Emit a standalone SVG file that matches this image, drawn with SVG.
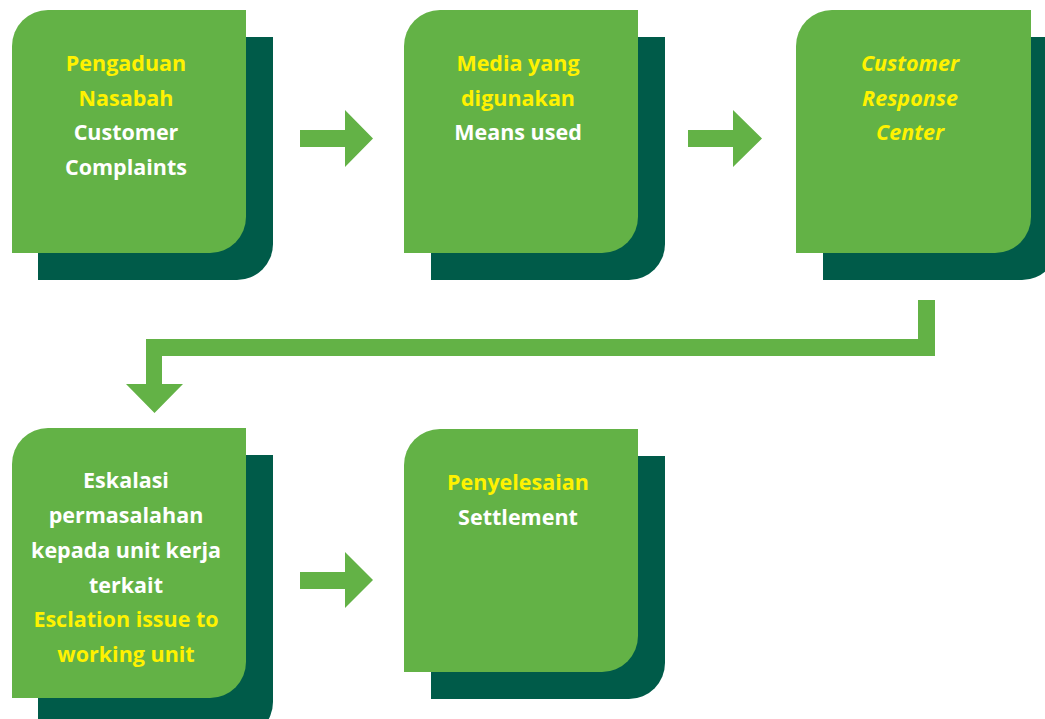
<svg xmlns="http://www.w3.org/2000/svg" width="1045" height="719" viewBox="0 0 1045 719">
  <style>
    .card { fill: #63B246; }
    .shadow { fill: #005B49; }
    .flow { fill: #63B246; }
    text { font-family: "Open Sans", "Liberation Sans", sans-serif; font-weight: 700; font-size: 21.5px; text-anchor: middle; }
    .y { fill: #FFF200; }
    .w { fill: #FFFFFF; }
    .it { font-style: italic; }
  </style>

  <rect width="1045" height="719" fill="#FFFFFF"/>

  <!-- Step 1: complaints -->
  <g id="node-pengaduan">
    <path class="shadow" d="M38,37 H273 V244 A36,36 0 0 1 237,280 H38 Z"/>
    <path class="card" d="M12,46 A36,36 0 0 1 48,10 H246 V217 A36,36 0 0 1 210,253 H12 Z"/>
    <text x="126" y="71" class="y">Pengaduan</text>
    <text x="126" y="106" class="y">Nasabah</text>
    <text x="126" y="140" class="w">Customer</text>
    <text x="126" y="175" class="w">Complaints</text>
  </g>

  <!-- Step 2: channels -->
  <g id="node-media">
    <path class="shadow" d="M431,37 H665 V244 A36,36 0 0 1 629,280 H431 Z"/>
    <path class="card" d="M404,46 A36,36 0 0 1 440,10 H638 V217 A36,36 0 0 1 602,253 H404 Z"/>
    <text x="518" y="71" class="y">Media yang</text>
    <text x="518" y="106" class="y">digunakan</text>
    <text x="518" y="140" class="w">Means used</text>
  </g>

  <!-- Step 3: response center -->
  <g id="node-crc">
    <path class="shadow" d="M823,37 H1058 V244 A36,36 0 0 1 1022,280 H823 Z"/>
    <path class="card" d="M796,46 A36,36 0 0 1 832,10 H1031 V217 A36,36 0 0 1 995,253 H796 Z"/>
    <text x="910" y="71" class="y it">Customer</text>
    <text x="910" y="106" class="y it">Response</text>
    <text x="910" y="140" class="y it">Center</text>
  </g>

  <!-- Step 4: escalation -->
  <g id="node-eskalasi">
    <path class="shadow" d="M38,455 H273 V702 A36,36 0 0 1 237,738 H38 Z"/>
    <path class="card" d="M12,464 A36,36 0 0 1 48,428 H246 V662 A36,36 0 0 1 210,698 H12 Z"/>
    <text x="126" y="488" class="w">Eskalasi</text>
    <text x="126" y="523" class="w">permasalahan</text>
    <text x="126" y="558" class="w">kepada unit kerja</text>
    <text x="126" y="593" class="w">terkait</text>
    <text x="126" y="627" class="y">Esclation issue to</text>
    <text x="126" y="662" class="y">working unit</text>
  </g>

  <!-- Step 5: settlement -->
  <g id="node-penyelesaian">
    <path class="shadow" d="M431,456 H665 V663 A36,36 0 0 1 629,699 H431 Z"/>
    <path class="card" d="M404,465 A36,36 0 0 1 440,429 H638 V636 A36,36 0 0 1 602,672 H404 Z"/>
    <text x="518" y="490" class="y">Penyelesaian</text>
    <text x="518" y="525" class="w">Settlement</text>
  </g>

  <!-- Flow arrows between steps -->
  <g id="connectors">
    <polygon class="flow" points="300,130 345,130 345,110 373,138.5 345,167 345,147 300,147"/>
    <polygon class="flow" points="688,130 733,130 733,110 762,138.5 733,167 733,147 688,147"/>
    <polygon class="flow" points="918,300 935,300 935,356 162,356 162,384 183,384 154.5,413 126,384 146,384 146,339 918,339"/>
    <polygon class="flow" points="300,572 345,572 345,552 373,580 345,608 345,589 300,589"/>
  </g>
</svg>
